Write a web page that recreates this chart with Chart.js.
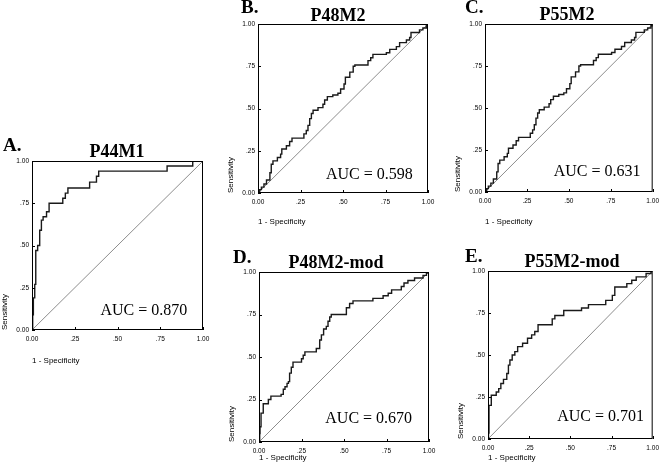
<!DOCTYPE html>
<html>
<head>
<meta charset="utf-8">
<script src="https://cdn.jsdelivr.net/npm/chart.js@4/dist/chart.umd.min.js"></script>
<style>
    html, body { margin: 0; padding: 0; background: #fff; }
    #wrap { position: relative; width: 664px; height: 472px; overflow: hidden; }
    #wrap canvas { position: absolute; left: 0; top: 0; }
</style>
</head>
<body>
<div id="wrap"></div>
<script>
// tick labels shared by both axes of every panel
const tickValues = [0, 0.25, 0.5, 0.75, 1];
const tickLabels = ['0.00', '.25', '.50', '.75', '1.00'];

// reference diagonal
const diagX = [0, 1];
const diagY = [0, 1];

// A. P44M1  (1 - specificity, sensitivity) at each step
const aFpr = [0, 0.004, 0.008, 0.016, 0.022, 0.033, 0.045, 0.055, 0.065, 0.085, 0.10, 0.18, 0.195, 0.21, 0.337, 0.377, 0.39, 0.79, 0.94, 1];
const aTpr = [0, 0.09, 0.19, 0.27, 0.47, 0.50, 0.59, 0.65, 0.67, 0.70, 0.75, 0.78, 0.81, 0.84, 0.875, 0.91, 0.94, 0.97, 1, 1];

// B. P48M2
const bFpr = [0, 0.01, 0.02, 0.035, 0.05, 0.07, 0.078, 0.088, 0.114, 0.133, 0.14, 0.167, 0.186, 0.20, 0.27, 0.284, 0.294, 0.304, 0.314, 0.324, 0.353, 0.382, 0.392, 0.408, 0.44, 0.47, 0.486, 0.506, 0.514, 0.54, 0.56, 0.57, 0.647, 0.663, 0.676, 0.755, 0.775, 0.814, 0.833, 0.873, 0.892, 0.90, 0.95, 0.97, 0.99, 1];
const bTpr = [0, 0.02, 0.035, 0.053, 0.077, 0.12, 0.17, 0.19, 0.21, 0.23, 0.26, 0.28, 0.305, 0.325, 0.35, 0.37, 0.40, 0.44, 0.47, 0.49, 0.505, 0.525, 0.55, 0.57, 0.58, 0.59, 0.615, 0.645, 0.685, 0.715, 0.75, 0.757, 0.783, 0.80, 0.82, 0.83, 0.85, 0.866, 0.89, 0.905, 0.92, 0.95, 0.965, 0.976, 0.99, 1];

// C. P55M2 (same curve as printed in B)
const cFpr = [0, 0.01, 0.02, 0.035, 0.05, 0.07, 0.078, 0.088, 0.114, 0.133, 0.14, 0.167, 0.186, 0.20, 0.27, 0.284, 0.294, 0.304, 0.314, 0.324, 0.353, 0.382, 0.392, 0.408, 0.44, 0.47, 0.486, 0.506, 0.514, 0.54, 0.56, 0.57, 0.647, 0.663, 0.676, 0.755, 0.775, 0.814, 0.833, 0.873, 0.892, 0.90, 0.95, 0.97, 0.99, 1];
const cTpr = [0, 0.02, 0.035, 0.053, 0.077, 0.12, 0.17, 0.19, 0.21, 0.23, 0.26, 0.28, 0.305, 0.325, 0.35, 0.37, 0.40, 0.44, 0.47, 0.49, 0.505, 0.525, 0.55, 0.57, 0.58, 0.59, 0.615, 0.645, 0.685, 0.715, 0.75, 0.757, 0.783, 0.80, 0.82, 0.83, 0.85, 0.866, 0.89, 0.905, 0.92, 0.95, 0.965, 0.976, 0.99, 1];

// D. P48M2-mod
const dFpr = [0, 0.004, 0.006, 0.012, 0.025, 0.055, 0.07, 0.13, 0.143, 0.153, 0.165, 0.173, 0.18, 0.19, 0.2, 0.25, 0.26, 0.27, 0.337, 0.357, 0.367, 0.38, 0.396, 0.406, 0.416, 0.425, 0.514, 0.533, 0.553, 0.67, 0.73, 0.76, 0.78, 0.837, 0.853, 0.876, 0.915, 0.965, 0.985, 1];
const dTpr = [0, 0.05, 0.09, 0.17, 0.225, 0.25, 0.27, 0.28, 0.31, 0.325, 0.345, 0.355, 0.405, 0.44, 0.47, 0.49, 0.51, 0.53, 0.55, 0.60, 0.63, 0.665, 0.68, 0.71, 0.735, 0.75, 0.79, 0.815, 0.83, 0.845, 0.86, 0.875, 0.895, 0.915, 0.935, 0.95, 0.965, 0.98, 0.995, 1];

// E. P55M2-mod
const eFpr = [0, 0.003, 0.006, 0.02, 0.05, 0.065, 0.078, 0.094, 0.114, 0.124, 0.133, 0.147, 0.163, 0.18, 0.21, 0.24, 0.265, 0.284, 0.304, 0.39, 0.406, 0.46, 0.568, 0.61, 0.715, 0.755, 0.77, 0.843, 0.873, 0.90, 0.96, 0.99, 1];
const eTpr = [0, 0.035, 0.20, 0.26, 0.28, 0.30, 0.33, 0.355, 0.39, 0.44, 0.47, 0.50, 0.52, 0.55, 0.57, 0.60, 0.62, 0.64, 0.68, 0.715, 0.735, 0.765, 0.78, 0.80, 0.825, 0.855, 0.905, 0.925, 0.945, 0.965, 0.985, 1, 1];

const aucText = ['AUC = 0.870', 'AUC = 0.598', 'AUC = 0.631', 'AUC = 0.670', 'AUC = 0.701'];

// plot boxes on the page [left, top, right, bottom], text spots, x-axis block height
const panels = [
    { letter: 'A.', title: 'P44M1',     fpr: aFpr, tpr: aTpr, auc: aucText[0], box: [32, 161, 203, 330],  letterAt: [3, 151],   titleAt: [117, 157], aucAt: [0.40, 0.09],  xh: 36 },
    { letter: 'B.', title: 'P48M2',     fpr: bFpr, tpr: bTpr, auc: aucText[1], box: [258, 24, 428, 193],  letterAt: [241, 13],  titleAt: [338, 21],  aucAt: [0.40, 0.083], xh: 34 },
    { letter: 'C.', title: 'P55M2',     fpr: cFpr, tpr: cTpr, auc: aucText[2], box: [485, 24, 654, 192],  letterAt: [465, 13],  titleAt: [567, 20],  aucAt: [0.41, 0.095], xh: 35 },
    { letter: 'D.', title: 'P48M2-mod', fpr: dFpr, tpr: dTpr, auc: aucText[3], box: [259, 272, 429, 442], letterAt: [233, 263], titleAt: [336, 268], aucAt: [0.39, 0.11],  xh: 21 },
    { letter: 'E.', title: 'P55M2-mod', fpr: eFpr, tpr: eTpr, auc: aucText[4], box: [488, 271, 658, 439], letterAt: [465, 262], titleAt: [572, 267], aucAt: [0.42, 0.107], xh: 24 }
];

const Y_AXIS_W = 32;

// black box round the plot, short inward tick marks
const framePlugin = {
    id: 'frame',
    afterDatasetsDraw(chart) {
        const { ctx, chartArea: a, scales } = chart;
        ctx.save();
        ctx.strokeStyle = '#000';
        ctx.lineWidth = 1;
        ctx.strokeRect(a.left + 0.5, a.top + 0.5, a.right - a.left - 1, a.bottom - a.top - 1);
        ctx.beginPath();
        tickValues.forEach(v => {
            const x = Math.round(scales.x.getPixelForValue(v)) + 0.5;
            const y = Math.round(scales.y.getPixelForValue(v)) + 0.5;
            ctx.moveTo(x, a.bottom); ctx.lineTo(x, a.bottom - 3);
            ctx.moveTo(a.left, y); ctx.lineTo(a.left + 3, y);
        });
        ctx.stroke();
        ctx.restore();
    }
};

// panel letter, title and AUC note
const textPlugin = {
    id: 'panelText',
    afterDraw(chart, args, o) {
        const { ctx, scales } = chart;
        ctx.save();
        ctx.fillStyle = '#000';
        ctx.textBaseline = 'alphabetic';
        ctx.font = 'bold 19px "Liberation Serif"';
        ctx.textAlign = 'left';
        ctx.fillText(o.letter, o.letterAt[0], o.letterAt[1]);
        ctx.font = 'bold 18px "Liberation Serif"';
        ctx.textAlign = 'center';
        ctx.fillText(o.title, o.titleAt[0], o.titleAt[1]);
        ctx.font = '16px "Liberation Serif"';
        ctx.textAlign = 'left';
        ctx.fillText(o.auc, scales.x.getPixelForValue(o.aucAt[0]), scales.y.getPixelForValue(o.aucAt[1]));
        ctx.restore();
    }
};

const tickFont = { family: '"Liberation Sans", Arial, sans-serif', size: 6.5 };
const titleFont = { family: '"Liberation Sans", Arial, sans-serif', size: 8 };

function toPoints(xs, ys) {
    return xs.map((x, i) => ({ x: x, y: ys[i] }));
}

document.addEventListener('DOMContentLoaded', () => {
    const wrap = document.getElementById('wrap');

    panels.forEach(p => {
        const canvas = document.createElement('canvas');
        canvas.width = 664;
        canvas.height = 472;
        wrap.appendChild(canvas);

        new Chart(canvas.getContext('2d'), {
            type: 'line',
            data: {
                datasets: [
                    {
                        data: toPoints(p.fpr, p.tpr),
                        stepped: 'before',
                        borderColor: '#1a1a1a',
                        borderWidth: 1.4,
                        pointRadius: 0,
                        fill: false
                    },
                    {
                        data: toPoints(diagX, diagY),
                        borderColor: '#808080',
                        borderWidth: 0.9,
                        pointRadius: 0,
                        fill: false
                    }
                ]
            },
            options: {
                responsive: false,
                animation: false,
                events: [],
                layout: {
                    padding: {
                        left: p.box[0] - Y_AXIS_W,
                        top: p.box[1],
                        right: 664 - p.box[2],
                        bottom: 472 - p.box[3] - p.xh
                    }
                },
                plugins: {
                    legend: { display: false },
                    tooltip: { enabled: false },
                    panelText: { letter: p.letter, title: p.title, auc: p.auc, letterAt: p.letterAt, titleAt: p.titleAt, aucAt: p.aucAt }
                },
                scales: {
                    x: {
                        type: 'linear',
                        min: 0,
                        max: 1,
                        afterFit: s => { s.height = p.xh; },
                        grid: { display: false, drawTicks: false },
                        border: { display: false },
                        ticks: {
                            stepSize: 0.25,
                            padding: 5,
                            autoSkip: false,
                            maxRotation: 0,
                            color: '#000',
                            font: tickFont,
                            callback: (v, i) => tickLabels[i]
                        },
                        title: { display: true, text: '1 - Specificity', align: 'start', color: '#000', font: titleFont, padding: 0 }
                    },
                    y: {
                        type: 'linear',
                        min: 0,
                        max: 1,
                        afterFit: s => { s.width = Y_AXIS_W; },
                        grid: { display: false, drawTicks: false },
                        border: { display: false },
                        ticks: {
                            stepSize: 0.25,
                            padding: 3,
                            autoSkip: false,
                            color: '#000',
                            font: tickFont,
                            callback: (v, i) => tickLabels[i]
                        },
                        title: { display: true, text: 'Sensitivity', align: 'start', color: '#000', font: titleFont, padding: 0 }
                    }
                }
            },
            plugins: [framePlugin, textPlugin]
        });
    });
});
</script>
</body>
</html>
